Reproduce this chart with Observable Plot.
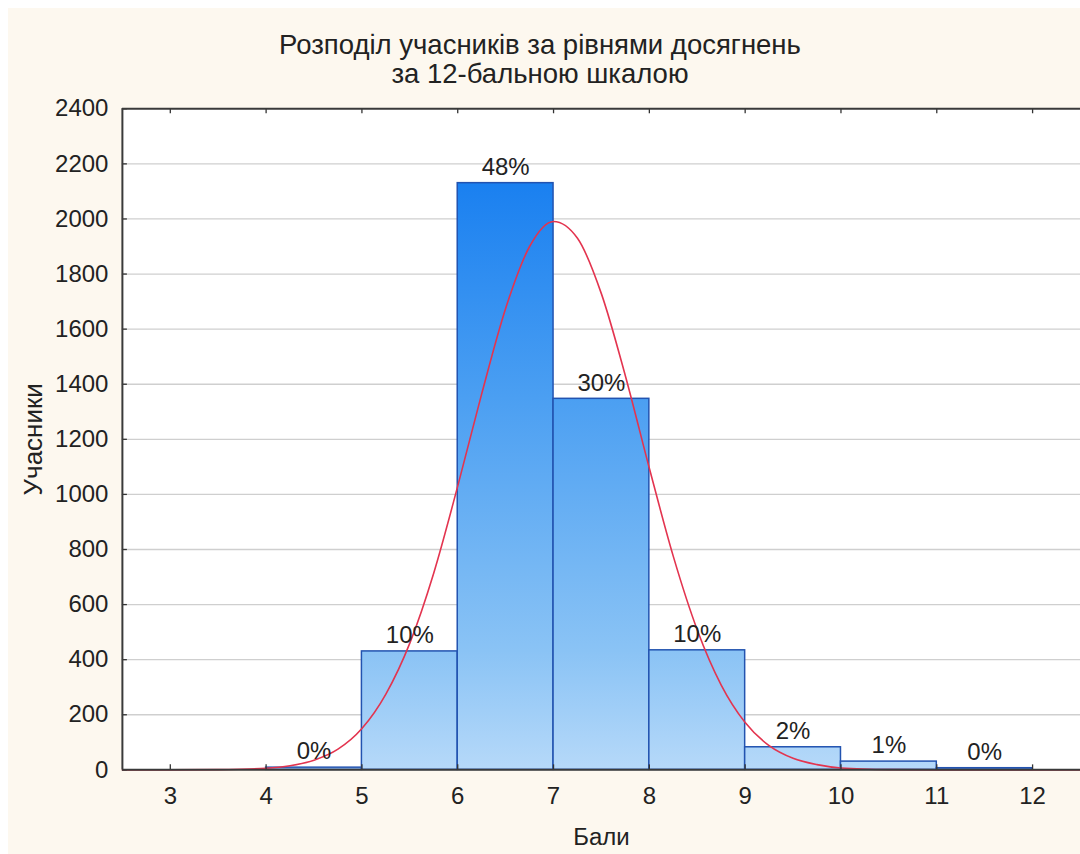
<!DOCTYPE html>
<html><head><meta charset="utf-8">
<script src="https://cdn.jsdelivr.net/npm/d3@7"></script>
<script src="https://cdn.jsdelivr.net/npm/@observablehq/plot@0.6"></script>
<style>
html,body{margin:0;padding:0;background:#fff;overflow:hidden;width:1080px;height:854px}
#panel{position:absolute;left:8px;top:8px;width:1072px;height:846px;background:#fdf8ef;font-family:"Liberation Sans",Arial,sans-serif;color:#222}
#title{height:81px;box-sizing:border-box;padding-top:22px;padding-right:8px;text-align:center;font-size:27.5px;line-height:29px}
</style></head><body>
<div id="panel"><div id="title">Розподіл учасників за рівнями досягнень<br>за 12-бальною шкалою</div><div id="chart"></div></div>
<script>
// Histogram bins (score intervals) and participant counts
const binStart = [4, 5, 6, 7, 8, 9, 10, 11];
const binEnd   = [5, 6, 7, 8, 9, 10, 11, 12];
const counts   = [8, 430, 2130, 1347, 434, 82, 30, 6];
const pctLabels = ["0%", "10%", "48%", "30%", "10%", "2%", "1%", "0%"];

// Fitted normal curve
const curveX = [2.5, 3, 3.5, 4, 4.25, 4.5, 4.75, 5, 5.25, 5.5, 5.75, 6, 6.25, 6.5, 6.75, 7, 7.25, 7.5, 7.75, 8, 8.25, 8.5, 8.75, 9, 9.25, 9.5, 9.75, 10, 10.5, 11, 12, 12.5];
const curveY = [0, 0, 1, 6, 15, 35, 75, 150, 275, 460, 715, 1030, 1365, 1675, 1900, 1991, 1930, 1728, 1430, 1095, 775, 508, 308, 172, 88, 42, 19, 7, 1, 0, 0, 0];

// Axis ticks
const xTicks = [3, 4, 5, 6, 7, 8, 9, 10, 11, 12];
const yTicks = [0, 200, 400, 600, 800, 1000, 1200, 1400, 1600, 1800, 2000, 2200, 2400];

const bars = binStart.map((s, i) => ({x1: s, x2: binEnd[i], count: counts[i], pct: pctLabels[i]}));
const curve = curveX.map((x, i) => ({x, y: curveY[i]}));

const W = 1073, H = 765;
const mL = 114, mR = 0, mT = 19.3, mB = 84;
const plotW = W - mL - mR, plotH = H - mT - mB;
const font = '"Liberation Sans", Arial, sans-serif';

const chart = Plot.plot({
  width: W, height: H,
  marginLeft: mL, marginRight: mR, marginTop: mT, marginBottom: mB,
  style: {background: "transparent", fontFamily: font, fontSize: "24px", color: "#222"},
  x: {domain: [2.5, 12.5], axis: null},
  y: {domain: [0, 2400], axis: null},
  marks: [
    Plot.frame({fill: "white", stroke: null}),
    Plot.gridY(yTicks.filter(v => v > 0 && v < 2400), {stroke: "#cfcfcf", strokeOpacity: 1, strokeWidth: 1.3}),
    Plot.rectY(bars, {x1: "x1", x2: "x2", y1: 0, y2: "count", fill: "url(#barGrad)", stroke: "#2253b0", strokeWidth: 1.5}),
    Plot.line(curve, {x: "x", y: "y", curve: "monotone-x", stroke: "#e3344f", strokeWidth: 1.6}),
    Plot.text(bars, {x: d => (d.x1 + d.x2) / 2, y: "count", text: "pct", dy: -16, fontSize: 24, fill: "#222"}),
    Plot.axisY(yTicks, {anchor: "left", tickSize: 0, tickPadding: 14, fontSize: 24, tickFormat: d => String(d), label: null}),
    Plot.axisX(xTicks, {anchor: "bottom", tickSize: 0, tickPadding: 17, fontSize: 24, tickFormat: d => String(d), label: null}),
    Plot.tickX(xTicks, {x: d => d, insetTop: plotH - 5, stroke: "#333", strokeWidth: 1.3}),
    Plot.tickX(xTicks, {x: d => d, insetBottom: plotH - 5, stroke: "#333", strokeWidth: 1.3}),
    Plot.tickY(yTicks, {y: d => d, insetRight: plotW - 5, stroke: "#333", strokeWidth: 1.3}),
    Plot.ruleY([0], {stroke: "#3a3a3a", strokeWidth: 2}),
    Plot.ruleY([2400], {stroke: "#3a3a3a", strokeWidth: 2}),
    Plot.ruleX([2.5], {stroke: "#3a3a3a", strokeWidth: 2}),
    Plot.text(["Бали"], {frameAnchor: "bottom", text: d => d, dy: 68, lineAnchor: "middle", textAnchor: "middle", fontSize: 24, fill: "#222"}),
    Plot.text(["Учасники"], {frameAnchor: "left", text: d => d, rotate: -90, dx: -89, textAnchor: "middle", lineAnchor: "middle", fontSize: 26, fill: "#222"})
  ]
});

// vertical gradient tied to the y scale (shared across all bars)
const ys = chart.scale("y");
const svgRoot = d3.select(chart);
const defs = svgRoot.insert("defs", ":first-child");
const grad = defs.append("linearGradient")
  .attr("id", "barGrad").attr("gradientUnits", "userSpaceOnUse")
  .attr("x1", 0).attr("x2", 0)
  .attr("y1", ys.apply(0)).attr("y2", ys.apply(2130));
[[0, "#b6d9f9"], [430 / 2130, "#8ac3f5"], [1347 / 2130, "#4b9ff2"], [1, "#1a80f0"]]
  .forEach(([o, c]) => grad.append("stop").attr("offset", o).attr("stop-color", c));

document.getElementById("chart").appendChild(chart);
</script>
</body></html>
